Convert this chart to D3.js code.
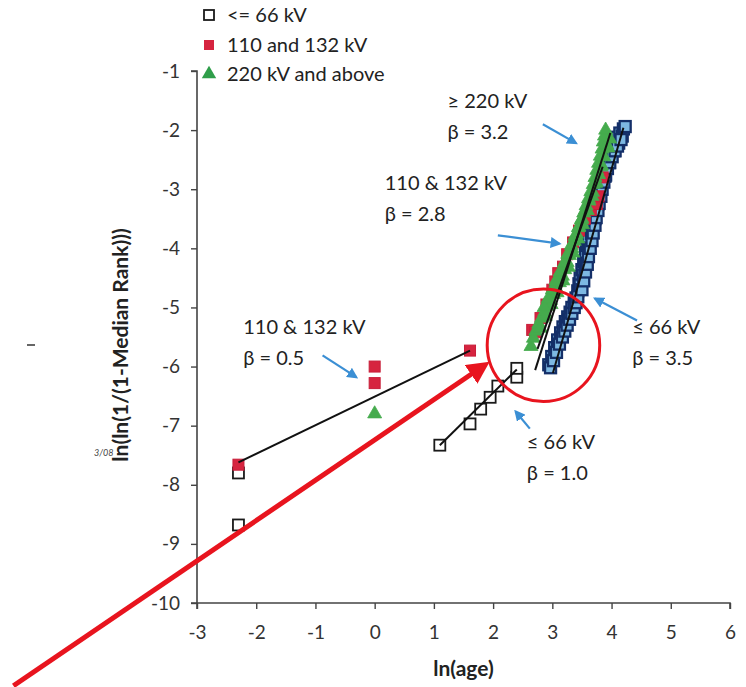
<!DOCTYPE html>
<html><head><meta charset="utf-8">
<script src="https://cdn.jsdelivr.net/npm/d3@7"></script>
<style>
body{margin:0;background:#fff;}
text{font-family:Lato,"Open Sans",sans-serif;}
</style></head>
<body><svg id="c" width="746" height="687"></svg>
<script>
// ---- data ----
const xTicks = [-3,-2,-1,0,1,2,3,4,5,6];
const yTicks = [-1,-2,-3,-4,-5,-6,-7,-8,-9,-10];
const seriesNames = ["<= 66 kV","110 and 132 kV","220 kV and above"];

// <= 66 kV, early failures (open squares)
const le66LowX = [-2.30,-2.30,1.10,1.61,1.79,1.95,2.08,2.40,2.40];
const le66LowY = [-7.80,-8.68,-7.33,-6.97,-6.72,-6.52,-6.33,-6.18,-6.03];
// <= 66 kV, wear-out cluster
const le66HighX = [2.94,2.97,2.99,3.02,3.04,3.07,3.09,3.12,3.14,3.17,3.18,3.21,3.22,3.25,3.26,3.29,3.30,3.33,3.33,3.37,3.37,3.40,3.40,3.43,3.43,3.45,3.47,3.47,3.50,3.52,3.53,3.56,3.56,3.58,3.61,3.61,3.64,3.66,3.66,3.69,3.71,3.72,3.74,3.76,3.77,3.79,3.81,3.83,3.85,3.88,3.89,3.91,3.95,3.96,3.99,4.03,4.04,4.09,4.12,4.14,4.18,4.20,4.23,
  3.50,3.53,3.56,3.59,3.61,3.64,3.67,3.69,3.72,3.74,3.77,3.79,3.82,3.84,3.87,3.90,3.93,3.97,4.01,4.06,4.10,4.16];
const le66HighY = [-5.97,-6.02,-5.83,-5.90,-5.68,-5.76,-5.55,-5.62,-5.43,-5.50,-5.33,-5.40,-5.24,-5.30,-5.16,-5.20,-5.08,-5.00,-5.10,-4.92,-5.00,-4.84,-4.92,-4.72,-4.82,-4.60,-4.48,-4.62,-4.36,-4.45,-4.22,-4.08,-4.25,-3.95,-3.82,-4.00,-3.68,-3.55,-3.75,-3.43,-3.30,-3.50,-3.18,-3.06,-3.25,-2.94,-2.83,-3.00,-2.72,-2.60,-2.78,-2.50,-2.40,-2.55,-2.30,-2.20,-2.35,-2.12,-2.22,-2.05,-2.10,-1.98,-1.94,
  -4.70,-4.55,-4.40,-4.27,-4.14,-4.00,-3.87,-3.74,-3.61,-3.48,-3.36,-3.24,-3.12,-3.00,-2.88,-2.76,-2.65,-2.55,-2.45,-2.35,-2.27,-2.16];

// 110 and 132 kV
const kv110X = [-2.30,0.00,0.00,1.61,2.66,2.71,2.80,2.90,3.00,3.05,3.10,3.18,3.25,3.35,3.45,3.55,3.65,3.75,3.78,3.85];
const kv110Y = [-7.66,-6.00,-6.28,-5.73,-5.38,-5.42,-5.18,-4.95,-4.70,-4.56,-4.42,-4.31,-4.10,-3.90,-3.70,-3.50,-3.35,-3.25,-3.12,-2.80];

// 220 kV and above
const kv220X = [0.00,2.64,2.68,2.72,2.77,2.80,2.82,2.87,2.88,2.92,2.97,2.98,3.02,3.07,3.08,3.12,3.17,3.18,3.21,3.25,3.27,3.29,3.33,3.35,3.37,3.41,3.43,3.45,3.49,3.51,3.53,3.57,3.59,3.61,3.65,3.67,3.69,3.72,3.74,3.75,3.78,3.81,3.82,3.84,3.86,3.88,3.90,3.94,3.97,
  2.86,2.93,3.00,3.06,3.13,3.20,3.26,3.32,3.38,3.44,3.50,3.56,3.62,3.68,3.73,3.78,3.83,3.87,3.92];
const kv220Y = [-6.80,-5.66,-5.52,-5.40,-5.28,-5.35,-5.18,-5.08,-5.15,-4.98,-4.88,-4.95,-4.78,-4.68,-4.75,-4.58,-4.47,-4.55,-4.36,-4.24,-4.32,-4.12,-4.00,-4.08,-3.88,-3.76,-3.84,-3.64,-3.52,-3.60,-3.40,-3.28,-3.36,-3.16,-3.04,-3.12,-2.92,-2.80,-2.88,-2.68,-2.56,-2.44,-2.62,-2.32,-2.20,-2.10,-2.00,-2.30,-2.15,
  -5.00,-4.85,-4.70,-4.55,-4.40,-4.25,-4.10,-3.95,-3.80,-3.65,-3.50,-3.35,-3.20,-3.05,-2.90,-2.75,-2.60,-2.45,-2.25];

// fitted lines [x1,y1,x2,y2]
const fitLe66Low  = [1.10,-7.33,2.40,-6.05];
const fit110Low   = [-2.30,-7.62,1.61,-5.73];
const fit220      = [2.71,-6.06,3.98,-2.05];
const fit110High  = [2.75,-5.70,3.85,-2.62];
const fitLe66High = [3.01,-6.11,4.20,-1.96];

// annotations: [text line1, text line2, textX, textY, arrowFromX, arrowFromY, arrowToX, arrowToY]
const annotations = [
  ["\u2265 220 kV","\u03B2 = 3.2", 1.23,-1.62, 2.84,-1.90, 3.40,-2.22],
  ["110 & 132 kV","\u03B2 = 2.8", 0.17,-3.02, 2.08,-3.78, 3.12,-3.92],
  ["\u2264 66 kV","\u03B2 = 3.5", 4.35,-5.45, 4.43,-5.22, 3.72,-4.85],
  ["110 & 132 kV","\u03B2 = 0.5", -2.22,-5.45, -0.88,-5.81, -0.31,-6.18],
  ["\u2264 66 kV","\u03B2 = 1.0", 2.57,-7.40, 2.62,-7.05, 2.38,-6.76]
];
// red highlight circle (centre x, centre y, radius in x units)
const highlight = [2.85,-5.64,0.95];
// red pointer arrow (from, to)
const pointer = [-6.10,-11.40,1.92,-5.94];

// ---- drawing ----
const svg = d3.select("#c");
svg.append("rect").attr("width",746).attr("height",687).attr("fill","#fff");
const x = d3.scaleLinear().domain([-3,6]).range([197,730]);
const y = d3.scaleLinear().domain([-10,-1]).range([603,71]);

const defs = svg.append("defs");
defs.append("marker").attr("id","ba").attr("viewBox","0 0 10 10").attr("refX",8).attr("refY",5)
  .attr("markerWidth",5).attr("markerHeight",5).attr("orient","auto")
  .append("path").attr("d","M0,0L10,5L0,10z").attr("fill","#3b8fd4");
defs.append("marker").attr("id","ra").attr("viewBox","0 0 10 10").attr("refX",5).attr("refY",5)
  .attr("markerWidth",4.5).attr("markerHeight",4.5).attr("orient","auto")
  .append("path").attr("d","M0,0L10,5L0,10z").attr("fill","#e8141e");

// axes
const fmt = d => String(d);
const gx = svg.append("g").attr("transform",`translate(0,${y(-10)})`)
  .call(d3.axisBottom(x).tickValues(xTicks).tickSize(6).tickPadding(17).tickFormat(fmt));
const gy = svg.append("g").attr("transform",`translate(${x(-3)},0)`)
  .call(d3.axisLeft(y).tickValues(yTicks).tickSize(6).tickPadding(11).tickFormat(fmt));
[gx,gy].forEach(g=>{
  g.select(".domain").attr("stroke","#444").attr("stroke-width",1.6);
  g.selectAll(".tick line").attr("stroke","#444").attr("stroke-width",1.4);
  g.selectAll(".tick text").attr("fill","#333").style("font-size","19px").style("font-family","Lato,'Open Sans',sans-serif");
});
gy.select(".domain").attr("d",`M-6,${y(-1)}H0V${y(-10)}H-6`);
gx.select(".domain").attr("d",`M${x(-3)},6V0H${x(6)}V6`);

// axis titles
svg.append("text").attr("x",(x(-3)+x(6))/2).attr("y",676).attr("text-anchor","middle")
  .style("font-size","21px").style("font-weight","bold").attr("fill","#222").text("ln(age)");
svg.append("text").attr("transform",`translate(128,${(y(-1)+y(-10))/2+8}) rotate(-90)`).attr("text-anchor","middle")
  .style("font-size","21px").style("font-weight","bold").attr("fill","#222").text("ln(ln(1/(1-Median Rank)))");

// stray scan marks
svg.append("text").attr("x",94).attr("y",456).style("font-size","9px").style("font-style","italic").attr("fill","#444").text("3/08");
svg.append("line").attr("x1",27).attr("x2",35).attr("y1",345).attr("y2",345).attr("stroke","#333").attr("stroke-width",1.5);

const sq = 11;
function squares(xs, ys, fill, stroke, sw){
  svg.append("g").selectAll("rect").data(xs.map((v,i)=>[v,ys[i]])).join("rect")
    .attr("x",d=>x(d[0])-sq/2).attr("y",d=>y(d[1])-sq/2).attr("width",sq).attr("height",sq)
    .attr("fill",fill).attr("stroke",stroke).attr("stroke-width",sw);
}
function triangles(xs, ys, fill){
  svg.append("g").selectAll("path").data(xs.map((v,i)=>[v,ys[i]])).join("path")
    .attr("d",d3.symbol().type(d3.symbolTriangle).size(85))
    .attr("transform",d=>`translate(${x(d[0])},${y(d[1])})`)
    .attr("fill",fill).attr("stroke",fill).attr("stroke-width",0.8);
}
function fitLine(f){
  svg.append("line").attr("x1",x(f[0])).attr("y1",y(f[1])).attr("x2",x(f[2])).attr("y2",y(f[3]))
    .attr("stroke","#111").attr("stroke-width",2);
}

squares(le66LowX, le66LowY, "#fff", "#1a1a1a", 1.8);
squares(le66HighX, le66HighY, "#7db8e2", "#142f68", 2.3);
squares(kv110X, kv110Y, "#d6243f", "#c81e3a", 1);
triangles(kv220X, kv220Y, "#45ab4d");
[fitLe66Low, fit110Low, fit220, fit110High, fitLe66High].forEach(fitLine);

// annotations
const ag = svg.append("g");
annotations.forEach(a=>{
  ag.append("text").attr("x",x(a[2])).attr("y",y(a[3])).style("font-size","20px").attr("fill","#222").text(a[0]);
  ag.append("text").attr("x",x(a[2])).attr("y",y(a[3])+31).style("font-size","20px").attr("fill","#222").text(a[1]);
  ag.append("line").attr("x1",x(a[4])).attr("y1",y(a[5])).attr("x2",x(a[6])).attr("y2",y(a[7]))
    .attr("stroke","#3b8fd4").attr("stroke-width",2.2).attr("marker-end","url(#ba)");
});

// red highlight circle and pointer
svg.append("ellipse").attr("cx",x(highlight[0])).attr("cy",y(highlight[1]))
  .attr("rx",x(highlight[0]+highlight[2])-x(highlight[0])).attr("ry",x(highlight[0]+highlight[2])-x(highlight[0]))
  .attr("fill","none").attr("stroke","#e8141e").attr("stroke-width",3);
svg.append("line").attr("x1",x(pointer[0])).attr("y1",y(pointer[1])).attr("x2",x(pointer[2])-8).attr("y2",y(pointer[3])+5)
  .attr("stroke","#e8141e").attr("stroke-width",5).attr("marker-end","url(#ra)");

// legend
const lg = svg.append("g");
const ly = [15,45,74];
lg.append("rect").attr("x",204).attr("y",ly[0]-5).attr("width",10).attr("height",10).attr("fill","#fff").attr("stroke","#1a1a1a").attr("stroke-width",1.8);
lg.append("rect").attr("x",204).attr("y",ly[1]-5).attr("width",10).attr("height",10).attr("fill","#d6243f");
lg.append("path").attr("d",d3.symbol().type(d3.symbolTriangle).size(90)).attr("transform",`translate(209,${ly[2]})`).attr("fill","#2f9e4a");
seriesNames.forEach((n,i)=>{
  lg.append("text").attr("x",227).attr("y",ly[i]+7).style("font-size","20px").attr("fill","#222").text(n);
});
</script></body></html>
